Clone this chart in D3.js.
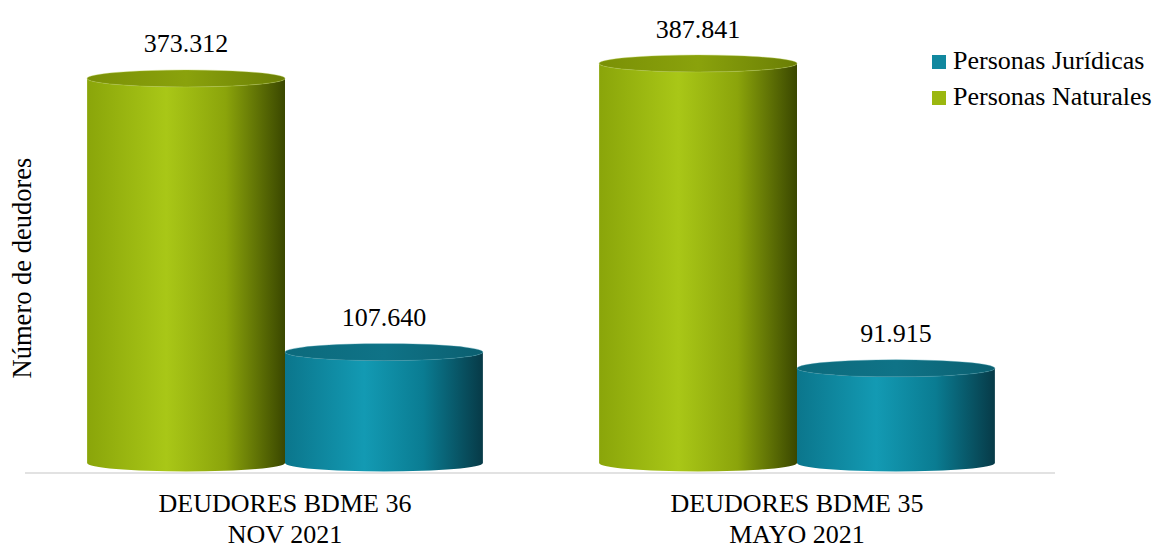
<!DOCTYPE html>
<html><head><meta charset="utf-8">
<script src="https://cdn.jsdelivr.net/npm/d3@7"></script>
<style>body{margin:0;background:#fff}svg{display:block}text{font-family:"Liberation Serif","Times New Roman",serif;fill:#000}</style>
</head><body><svg id="c" width="1156" height="548"></svg>
<script>
const categories = [["DEUDORES BDME 36","NOV 2021"],["DEUDORES BDME 35","MAYO 2021"]];
const categoryKeys = ["BDME36","BDME35"];
const seriesNames = ["Personas Naturales","Personas Jurídicas"];
const naturales = [373312, 387841];
const juridicas = [107640, 91915];
const legendOrder = ["Personas Jurídicas","Personas Naturales"];

const svg = d3.select("#c");
const baseY = 463, ry = 8.5;
const x = d3.scaleBand().domain(categoryKeys).range([29,1053]).paddingInner(0.227).paddingOuter(0.1135);
const xs = d3.scaleBand().domain(seriesNames).range([0, x.bandwidth()]);
const y = d3.scaleLinear().domain([0,400000]).range([baseY, baseY-412]);

const defs = svg.append("defs");
const pal = {
  "Personas Naturales": {side:[["0%","#8aa50a"],["40%","#a9c717"],["70%","#8ba40b"],["100%","#3a4700"]], top:[["0%","#7a9006"],["50%","#8aa20c"],["100%","#6a7e05"]], legend:"#9bb70f"},
  "Personas Jurídicas": {side:[["0%","#0b768c"],["40%","#139ab3"],["70%","#0a7c92"],["100%","#073a47"]], top:[["0%","#0c6a7c"],["50%","#0f7387"],["100%","#0b5f70"]], legend:"#11889f"}
};
seriesNames.forEach((s,i)=>{
  const g1 = defs.append("linearGradient").attr("id","side"+i).attr("x1","0").attr("x2","1").attr("y1","0").attr("y2","0");
  pal[s].side.forEach(([o,c])=>g1.append("stop").attr("offset",o).attr("stop-color",c));
  const g2 = defs.append("linearGradient").attr("id","top"+i).attr("x1","0").attr("x2","1").attr("y1","0").attr("y2","0");
  pal[s].top.forEach(([o,c])=>g2.append("stop").attr("offset",o).attr("stop-color",c));
});

svg.append("line").attr("x1",25).attr("x2",1055).attr("y1",baseY+10).attr("y2",baseY+10).attr("stroke","#d9d9d9").attr("stroke-width",1.5);

const rows = [];
categoryKeys.forEach((k,ci)=>{
  rows.push({k, s:seriesNames[0], si:0, v:naturales[ci]});
  rows.push({k, s:seriesNames[1], si:1, v:juridicas[ci]});
});

rows.forEach(d=>{
  const x0 = x(d.k)+xs(d.s), w = xs.bandwidth(), rx = w/2, cx = x0+rx;
  const yt = y(d.v);
  const p = `M${x0},${yt} L${x0},${baseY} A${rx},${ry} 0 0 0 ${x0+w},${baseY} L${x0+w},${yt} A${rx},${ry} 0 0 1 ${x0},${yt} Z`;
  svg.append("path").attr("d",p).attr("fill",`url(#side${d.si})`);
  svg.append("ellipse").attr("cx",cx).attr("cy",yt).attr("rx",rx).attr("ry",ry).attr("fill",`url(#top${d.si})`)
    .attr("stroke", d.si===0?"#b9cf55":"#3f97a8").attr("stroke-width",0.6).attr("stroke-opacity",0.6);
  svg.append("text").attr("x",cx).attr("y",yt-26).attr("text-anchor","middle")
    .attr("font-size",26).text(d3.format(",")(d.v).replace(/,/g,"."));
});

categoryKeys.forEach((k,ci)=>{
  const cx = x(k)+x.bandwidth()/2;
  const t = svg.append("text").attr("x",cx).attr("y",512).attr("text-anchor","middle").attr("font-size",26);
  t.append("tspan").attr("x",cx).text(categories[ci][0]);
  t.append("tspan").attr("x",cx).attr("dy",31).text(categories[ci][1]);
});

svg.append("text").attr("transform","translate(31,268) rotate(-90)").attr("text-anchor","middle").attr("font-size",26.5).text("Número de deudores");

legendOrder.forEach((s,i)=>{
  const ly = 69 + i*36;
  svg.append("rect").attr("x",932).attr("y",ly-14).attr("width",14).attr("height",14).attr("fill",pal[s].legend);
  svg.append("text").attr("x",953).attr("y",ly).attr("font-size",26).text(s);
});
</script></body></html>
